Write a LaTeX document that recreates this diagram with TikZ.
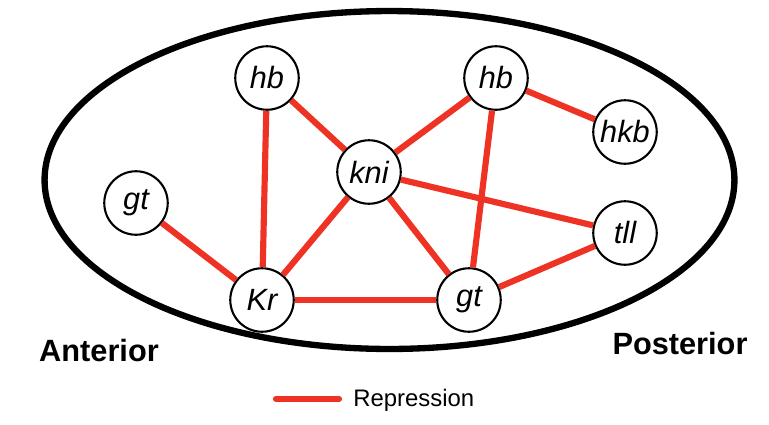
\documentclass[tikz,border=0pt]{standalone}
\usepackage{fontspec}
\setmainfont{Liberation Sans}
\usepackage{tikz}

\definecolor{repred}{RGB}{238,50,36}

\tikzset{
  gene/.style={draw=black, line width=1.2pt, circle, minimum size=1.27cm, inner sep=0pt,
    font=\fontsize{17.5}{20}\selectfont\itshape},
  repress/.style={-, line width=3.5pt, draw=repred},
  axislabel/.style={inner sep=0pt, font=\fontsize{17.5}{20}\selectfont\bfseries}
}

\begin{document}
\begin{tikzpicture}[x=0.02cm, y=-0.02cm]
    \useasboundingbox (0,0) rectangle (769,424);
    \draw[line width=3.6pt] (389.5,180) ellipse [x radius=6.9cm, y radius=3.38cm];
    \node[gene] (hb1) at (267,78) {hb};
    \node[gene] (hb2) at (496,78) {hb};
    \node[gene] (hkb) at (625,132) {hkb};
    \node[gene] (kni) at (369,172) {kni};
    \node[gene] (gt1) at (136,203) {gt};
    \node[gene] (tll) at (625,233) {tll};
    \node[gene] (Kr) at (262,300) {Kr};
    \node[gene] (gt2) at (469,300) {gt};
    \node[axislabel] (ant) at (99,351) {Anterior};
    \node[axislabel] (post) at (680,344) {Posterior};
    \draw[repress] (gt1) to (Kr);
    \draw[repress] (hb1) to (Kr);
    \draw[repress] (hb1) to (kni);
    \draw[repress] (kni) to (Kr);
    \draw[repress] (kni) to (hb2);
    \draw[repress] (kni) to (gt2);
    \draw[repress] (kni) to (tll);
    \draw[repress] (hb2) to (hkb);
    \draw[repress] (hb2) to (gt2);
    \draw[repress] (Kr) to (gt2);
    \draw[repress] (gt2) to (tll);
    % legend
    \coordinate (leg1) at (276,399);
    \coordinate (leg2) at (339,399);
    \draw[repress, line cap=round] (leg1) to (leg2);
    \node[anchor=west, inner sep=0pt, font=\fontsize{13.6}{16}\selectfont] (legtext) at (353,400) {Repression};
  \end{tikzpicture}
\end{document}
